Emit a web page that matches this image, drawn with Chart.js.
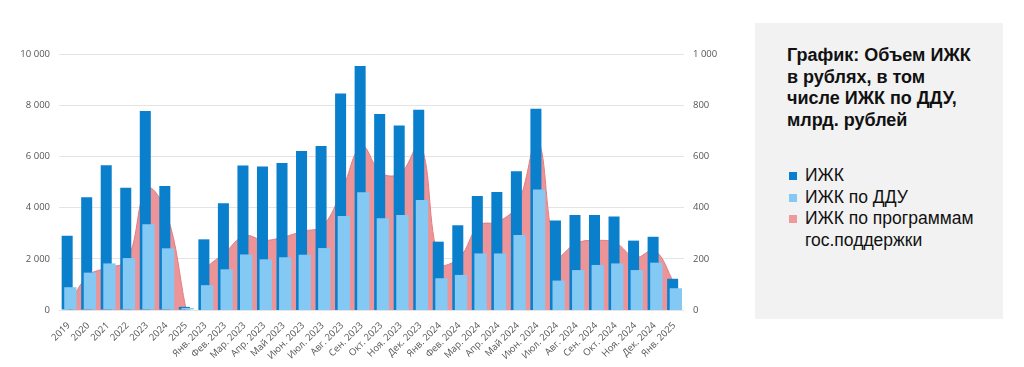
<!DOCTYPE html>
<html>
<head>
<meta charset="utf-8">
<script src="https://cdn.jsdelivr.net/npm/chart.js@4.4.1/dist/chart.umd.min.js"></script>
<style>
  html, body { margin: 0; padding: 0; background: #ffffff; }
  body { width: 1024px; height: 367px; position: relative; overflow: hidden; font-family: "Liberation Sans", Arial, sans-serif; }
  #wrap { position: absolute; left: 0; top: 0; width: 740px; height: 367px; }
  #panel { position: absolute; left: 755px; top: 23px; width: 248px; height: 296px; background: #f2f2f2; }
  #ptitle { position: absolute; left: 32px; top: 22px; font-weight: bold; font-size: 18px; line-height: 21.7px; color: #111111; white-space: nowrap; }
  #plegend { position: absolute; left: 34px; top: 142px; font-size: 17.5px; line-height: 21.5px; color: #111111; }
  .li { position: relative; padding-left: 16px; white-space: nowrap; }
  .sw { position: absolute; left: 0; top: 7px; width: 8px; height: 8px; }
</style>
</head>
<body>
<div id="wrap"><canvas id="c" width="740" height="367"></canvas></div>
<div id="panel">
  <div id="ptitle">График: Объем ИЖК<br>в рублях, в том<br>числе ИЖК по ДДУ,<br>млрд. рублей</div>
  <div id="plegend">
    <div class="li"><span class="sw" style="background:#0a7fcb"></span>ИЖК</div>
    <div class="li"><span class="sw" style="background:#84c8f4"></span>ИЖК по ДДУ</div>
    <div class="li"><span class="sw" style="background:#ee9a9d"></span>ИЖК по программам<br>гос.поддержки</div>
  </div>
</div>
<script>
// Categories: annual totals (left axis) then monthly values (right axis)
const categories = ['2019','2020','2021','2022','2023','2024','2025',
  'Янв. 2023','Фев. 2023','Мар. 2023','Апр. 2023','Май 2023','Июн. 2023','Июл. 2023','Авг. 2023','Сен. 2023','Окт. 2023','Ноя. 2023','Дек. 2023',
  'Янв. 2024','Фев. 2024','Мар. 2024','Апр. 2024','Май 2024','Июн. 2024','Июл. 2024','Авг. 2024','Сен. 2024','Окт. 2024','Ноя. 2024','Дек. 2024','Янв. 2025'];

// Annual values, bln rub (left axis)
const annualIzhk   = [2900, 4400, 5650, 4780, 7770, 4840, 122];
const annualDdu    = [890, 1460, 1820, 2030, 3350, 2410, 80];
const annualGov    = [200, 1350, 1650, 1950, 4750, 3800, 40];

// Monthly values, bln rub (right axis)
const monthlyIzhk  = [276, 417, 564, 561, 574, 621, 641, 846, 953, 766, 721, 782,
                      267, 331, 445, 461, 542, 786, 350, 371, 371, 365, 271, 286, 122];
const monthlyDdu   = [97, 159, 217, 198, 206, 216, 242, 367, 460, 358, 371, 430,
                      124, 137, 221, 221, 293, 471, 115, 156, 176, 182, 156, 185, 85];
const monthlyGov   = [165, 225, 290, 272, 285, 308, 328, 470, 640, 535, 535, 650,
                      185, 205, 330, 345, 415, 665, 215, 262, 272, 262, 205, 232, 105];

const leftTicks  = [0, 2000, 4000, 6000, 8000, 10000];
const rightTicks = [0, 200, 400, 600, 800, 1000];

const nA = annualIzhk.length, nM = monthlyIzhk.length;
const padAnnual  = arr => arr.concat(new Array(nM).fill(null));
const padMonthly = arr => new Array(nA).fill(null).concat(arr);
const fmt = v => String(v).replace(/\B(?=(\d{3})+(?!\d))/g, ' ');

const DARK = '#0a7fcb', LIGHT = '#84c8f4', PINK = '#ec9497', PINK_LINE = '#e27c80';
const CAT_PCT = 0.328;

const lateDraw = {
  id: 'lateDraw',
  beforeDatasetDraw(chart, args) {
    if (args.meta._dataset.lateDraw && !chart.$lateNow) return false;
  },
  afterDatasetsDraw(chart) {
    chart.$lateNow = true;
    chart.getSortedVisibleDatasetMetas().forEach(m => { if (m._dataset.lateDraw) chart._drawDataset(m); });
    chart.$lateNow = false;
  }
};

const barBase = { type: 'bar', skipNull: true, categoryPercentage: CAT_PCT, borderWidth: 0, order: 1 };
const lineBase = { type: 'line', fill: 'origin', tension: 0.4, pointRadius: 0, borderWidth: 1,
  borderColor: PINK_LINE, backgroundColor: PINK, spanGaps: false, order: 5 };

new Chart(document.getElementById('c'), {
  data: {
    labels: categories,
    datasets: [
      Object.assign({}, barBase, { label: 'ИЖК', data: padAnnual(annualIzhk), yAxisID: 'y', backgroundColor: DARK, barPercentage: 3.44 }),
      Object.assign({}, barBase, { label: 'ИЖК по ДДУ', data: padAnnual(annualDdu), yAxisID: 'y', backgroundColor: LIGHT, barPercentage: 3.84, lateDraw: true }),
      Object.assign({}, barBase, { label: 'ИЖК (мес.)', data: padMonthly(monthlyIzhk), yAxisID: 'y1', backgroundColor: DARK, barPercentage: 3.44 }),
      Object.assign({}, barBase, { label: 'ИЖК по ДДУ (мес.)', data: padMonthly(monthlyDdu), yAxisID: 'y1', backgroundColor: LIGHT, barPercentage: 3.84, lateDraw: true }),
      Object.assign({}, lineBase, { label: 'ИЖК по программам гос.поддержки', data: padAnnual(annualGov), yAxisID: 'y' }),
      Object.assign({}, lineBase, { label: 'ИЖК по программам гос.поддержки (мес.)', data: padMonthly(monthlyGov), yAxisID: 'y1' })
    ]
  },
  options: {
    responsive: false,
    animation: false,
    layout: { padding: { top: 54, left: 0, right: 0, bottom: 0 } },
    plugins: { legend: { display: false }, tooltip: { enabled: false } },
    scales: {
      x: {
        offset: true,
        grid: { display: false },
        border: { display: false },
        ticks: { autoSkip: false, maxRotation: 45, minRotation: 45, padding: 2,
          color: '#555555', font: { family: 'Open Sans', size: 9.5 } },
        afterFit(axis) { axis.height = 57; }
      },
      y: {
        position: 'left', min: 0, max: 10000,
        afterBuildTicks(axis) { axis.ticks = leftTicks.map(v => ({ value: v })); },
        grid: { color: '#e4e4e4', drawTicks: false },
        border: { display: false },
        ticks: { padding: 9, color: '#555555', font: { family: 'Open Sans', size: 9.5 }, callback: v => fmt(v) },
        afterFit(axis) { axis.width = 59; }
      },
      y1: {
        position: 'right', min: 0, max: 1000,
        afterBuildTicks(axis) { axis.ticks = rightTicks.map(v => ({ value: v })); },
        grid: { display: false, drawTicks: false },
        border: { display: false },
        ticks: { padding: 9, color: '#555555', font: { family: 'Open Sans', size: 9.5 }, callback: v => fmt(v) },
        afterFit(axis) { axis.width = 56; }
      }
    }
  },
  plugins: [lateDraw]
});
</script>
</body>
</html>
